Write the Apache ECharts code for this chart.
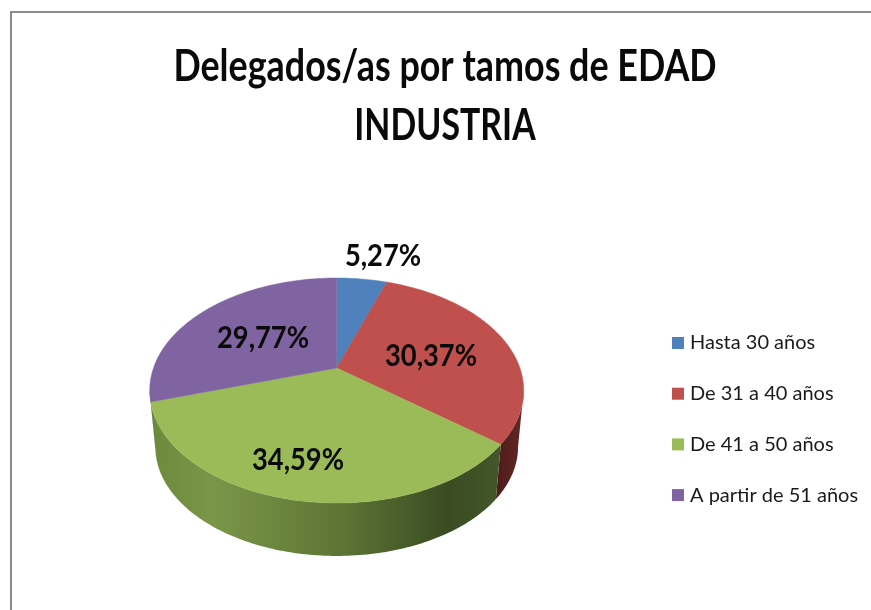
<!DOCTYPE html>
<html><head><meta charset="utf-8">
<style>html,body{margin:0;padding:0;background:#fff}#c{width:871px;height:610px}</style>
<script src="https://cdn.jsdelivr.net/npm/echarts@6/dist/echarts.min.js"></script>
</head><body><div id="c"></div>
<script>
const categories = ['Hasta 30 años', 'De 31 a 40 años', 'De 41 a 50 años', 'A partir de 51 años'];
const shares = [5.27, 30.37, 34.59, 29.77];
const colors = ['#4f81bd', '#c0504d', '#9bbb59', '#8064a2'];
const titleLines = ['Delegados/as por tamos de EDAD', 'INDUSTRIA'];
const labelSpots = [[383, 256], [431, 356], [298, 460], [263, 338]];

const total = shares.reduce((a, b) => a + b, 0);
const CX = 336.7, TOPY = 368, RX = 183.2, RY = 108, K = 0.2;
const BASEY = 425, BASESCALE = 0.97;
const rad = d => d * Math.PI / 180;
function proj(deg, base) {
  const u = Math.sin(rad(deg)), v = Math.cos(rad(deg)), w = 1 + K * v;
  const s = base ? BASESCALE : 1;
  return [CX + s * RX * u / w, (base ? BASEY : TOPY) - s * RY * v / w];
}
function arc(a, b, base) {
  const pts = [], n = Math.max(2, Math.ceil(Math.abs(b - a)));
  for (let i = 0; i <= n; i++) pts.push(proj(a + (b - a) * i / n, base));
  return pts;
}
function wallGradient(i) {
  if (i === 1) return new echarts.graphic.LinearGradient(0, 0, 1, 0, [
    { offset: 0, color: '#4d1b1a' }, { offset: 1, color: '#642826' }]);
  if (i === 2) return new echarts.graphic.LinearGradient(0, 0, 1, 0, [
    { offset: 0, color: '#6d8a3c' }, { offset: 0.18, color: '#7a9648' },
    { offset: 0.55, color: '#5c7534' }, { offset: 0.85, color: '#3a4b22' },
    { offset: 1, color: '#43582a' }]);
  return '#5f4a7a';
}
const VIS0 = 101.5, VIS1 = 258.5;
function renderSlice(i) {
  return function (params, api) {
    const val = api.value(0);
    let before = 0;
    for (let j = 0; j < i; j++) before += shares[j];
    const a0 = before / total * 360, a1 = (before + val) / total * 360;
    const children = [];
    const w0 = Math.max(a0, VIS0), w1 = Math.min(a1, VIS1);
    if (w1 > w0) {
      const top = arc(w0, w1, false), bottom = arc(w1, w0, true);
      children.push({ type: 'polygon', z2: 1, shape: { points: top.concat(bottom) },
        style: { fill: wallGradient(i) } });
    }
    children.push({ type: 'polygon', z2: 2,
      shape: { points: [[CX, TOPY]].concat(arc(a0, a1, false)) },
      style: { fill: colors[i], stroke: colors[i], lineWidth: 0.5 } });
    children.push({ type: 'text', z2: 3, x: labelSpots[i][0], y: labelSpots[i][1], scaleX: 0.88,
      style: { text: val.toFixed(2).replace('.', ',') + '%', align: 'center', verticalAlign: 'middle',
        font: '700 31px Lato', fill: '#0a0a0a' } });
    return { type: 'group', children };
  };
}
const chart = echarts.init(document.getElementById('c'), null, { renderer: 'canvas' });
chart.setOption({
  animation: false,
  backgroundColor: '#fff',
  legend: {
    orient: 'vertical', left: 672, top: 331, itemWidth: 12, itemHeight: 12, itemGap: 26.7, padding: 0,
    icon: 'rect', data: categories,
    textStyle: { fontFamily: 'Lato', fontSize: 20, lineHeight: 24, color: '#1a1a1a', padding: [0, 0, 0, 1] }
  },
  graphic: [
    { type: 'polyline', silent: true,
      shape: { points: [[11, 610], [11, 12], [871, 12]] },
      style: { fill: null, stroke: '#8c8c8c', lineWidth: 2 } },
    { type: 'text', silent: true, x: 445, y: 67, scaleX: 0.815,
      style: { text: titleLines[0], align: 'center', verticalAlign: 'middle', font: '700 44px Lato', fill: '#0a0a0a' } },
    { type: 'text', silent: true, x: 445, y: 126, scaleX: 0.77,
      style: { text: titleLines[1], align: 'center', verticalAlign: 'middle', font: '700 44px Lato', fill: '#0a0a0a' } }
  ],
  series: categories.map((name, i) => ({
    name, type: 'custom', coordinateSystem: 'none', itemStyle: { color: colors[i] },
    renderItem: renderSlice(i), data: [[shares[i]]], silent: true
  }))
});
</script></body></html>
